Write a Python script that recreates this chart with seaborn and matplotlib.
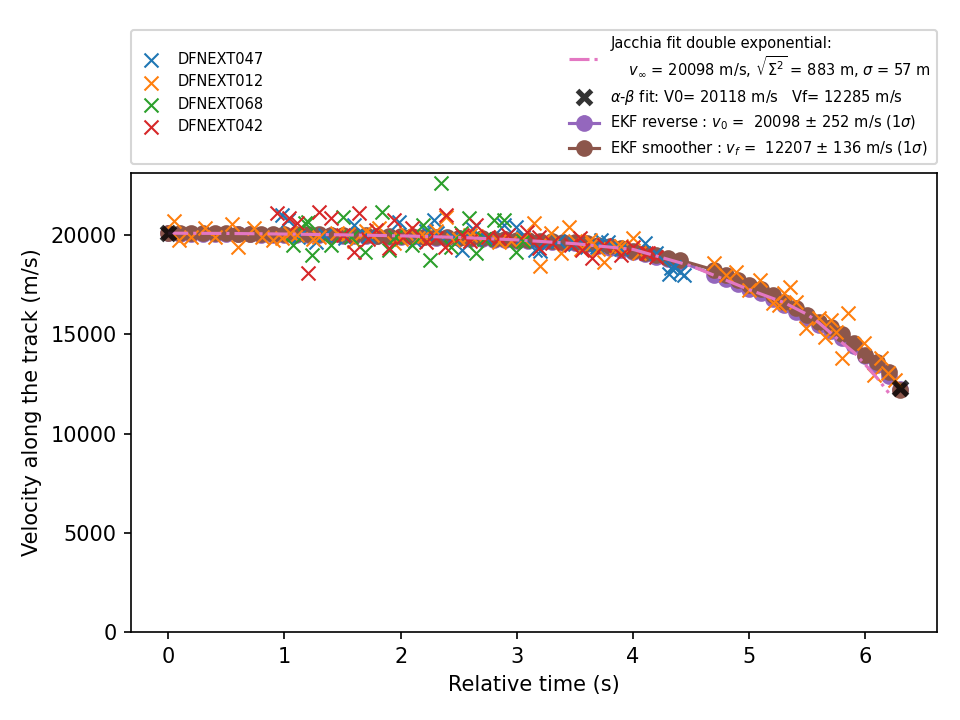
import numpy as np
import pandas as pd
import matplotlib
matplotlib.use('Agg')
import matplotlib.pyplot as plt
import seaborn as sns

# --- camera measurements (time s, velocity m/s) ---
CAMERAS = ['DFNEXT047', 'DFNEXT012', 'DFNEXT068', 'DFNEXT042']
CAM_COLORS = ['#1f77b4', '#ff7f0e', '#2ca02c', '#d62728']

t_047 = [0.98, 1.03, 1.12, 1.27, 1.35, 1.52, 1.60, 1.72, 1.99, 2.12, 2.22, 2.29, 2.31,
         2.45, 2.53, 2.62, 2.74, 2.89, 2.99, 3.05, 3.16, 3.20, 3.35, 3.50, 3.60, 3.69,
         3.72, 3.78, 3.90, 4.10, 4.20, 4.31, 4.33, 4.35, 4.40, 4.44]
v_047 = [21010, 20760, 19900, 19670, 20000, 19850, 20510, 19950, 20680, 19700, 20200, 20760, 20100,
         19900, 19250, 20300, 19800, 20510, 20430, 19900, 19250, 19200, 19700, 19550, 19400, 19420,
         19760, 19670, 19300, 19590, 19090, 18030, 18330, 18410, 18160, 18000]

t_012 = [0.05, 0.09, 0.20, 0.32, 0.40, 0.55, 0.60, 0.74, 0.81, 0.90, 0.98, 1.05, 1.11, 1.25,
         1.30, 1.45, 1.55, 1.60, 1.70, 1.75, 1.81, 1.94, 2.00, 2.05, 2.15, 2.20, 2.30, 2.39,
         2.45, 2.50, 2.60, 2.65, 2.75, 2.85, 2.95, 3.05, 3.15, 3.20, 3.29, 3.38, 3.45, 3.50,
         3.55, 3.63, 3.65, 3.70, 3.75, 3.85, 3.90, 4.00, 4.05,
         4.70, 4.80, 4.89, 5.00, 5.09, 5.20, 5.26, 5.30, 5.35, 5.40, 5.49, 5.60, 5.65, 5.70,
         5.75, 5.80, 5.85, 5.99, 6.07, 6.13, 6.19, 6.25]
v_012 = [20700, 19760, 19930, 20340, 19920, 20550, 19420, 20350, 19920, 19760, 19850, 20100, 20000, 19800,
         19900, 20100, 20050, 19700, 20200, 20000, 20360, 19600, 19800, 20100, 19850, 19950, 20200, 20900,
         19750, 19800, 20000, 19950, 19900, 19650, 19700, 19800, 20600, 18450, 20090, 19100, 20430, 19700,
         19300, 19760, 19550, 19300, 18660, 19400, 19450, 19840, 19100,
         18600, 17990, 18160, 17240, 17740, 16570, 16480, 17070, 17400, 16650, 15300, 15810, 14880, 15720,
         15140, 13790, 16060, 14550, 12950, 13790, 13040, 12700]

t_068 = [1.07, 1.18, 1.20, 1.24, 1.40, 1.50, 1.57, 1.69, 1.84, 1.90, 1.95, 2.10, 2.19, 2.25,
         2.35, 2.43, 2.52, 2.59, 2.65, 2.72, 2.80, 2.89, 2.99, 3.05]
v_068 = [19500, 20600, 20680, 19000, 19500, 20930, 19900, 19170, 21180, 19250, 19900, 19500, 20510, 18750,
         22610, 19420, 20100, 20850, 19090, 19800, 20760, 20760, 19170, 19700]

t_042 = [0.94, 1.04, 1.11, 1.20, 1.30, 1.40, 1.50, 1.60, 1.64, 1.72, 1.79, 1.90, 1.94, 2.02,
         2.10, 2.22, 2.30, 2.38, 2.39, 2.53, 2.60, 2.65, 2.75, 2.85, 2.92, 3.09, 3.19, 3.19,
         3.30, 3.47, 3.54, 3.56, 3.65, 3.75, 3.90, 4.00, 4.11, 4.13, 4.20]
v_042 = [21100, 20850, 20600, 18080, 21180, 20850, 20000, 19170, 21100, 19800, 20260, 19340, 20760, 19900,
         20340, 19670, 19850, 19420, 21010, 20000, 19700, 20510, 19900, 19840, 20000, 20170, 19920, 19340,
         19600, 19500, 19840, 19250, 18830, 19500, 19000, 19420, 19090, 19090, 18900]

CAM_T = [t_047, t_012, t_068, t_042]
CAM_V = [v_047, v_012, v_068, v_042]

# --- Jacchia fit curve ---
jac_t = [0.0, 0.5, 1.0, 1.5, 2.0, 2.5, 3.0, 3.5, 4.0, 4.5, 5.0, 5.3, 5.5, 5.6, 5.8, 5.9, 6.0, 6.1, 6.2]
jac_v = [20098, 20085, 20055, 20015, 19965, 19885, 19760, 19570, 19280, 18450, 17250, 16600, 16000,
         15580, 14570, 14100, 13460, 12800, 12050]

# --- alpha-beta fit end points ---
ab_t = [0.0, 6.3]
ab_v = [20118, 12285]

# --- EKF results ---
ekf_t = [0.0, 0.1, 0.2, 0.3, 0.4, 0.5, 0.6, 0.7, 0.8, 0.9, 1.0, 1.1, 1.2, 1.3, 1.4, 1.5,
         1.6, 1.7, 1.8, 1.9, 2.0, 2.1, 2.2, 2.3, 2.4, 2.5, 2.6, 2.7, 2.8, 2.9, 3.0, 3.1,
         3.2, 3.3, 3.4, 3.5, 3.6, 3.7, 3.8, 3.9, 4.0, 4.1, 4.2, 4.3, 4.4,
         4.7, 4.8, 4.9, 5.0, 5.1, 5.2, 5.3, 5.4, 5.5, 5.6, 5.7, 5.8, 5.9, 6.0, 6.1, 6.2, 6.3]
smooth_v = [20100, 20098, 20095, 20092, 20088, 20084, 20080, 20075, 20070, 20064, 20058, 20050, 20042,
            20034, 20025, 20015, 20004, 19993, 19981, 19968, 19960, 19945, 19930, 19915, 19898, 19880,
            19862, 19842, 19820, 19795, 19770, 19745, 19722, 19700, 19672, 19640, 19590, 19520, 19440,
            19330, 19210, 19100, 18990, 18870, 18750,
            18240, 17990, 17740, 17490, 17300, 16980, 16650, 16350, 15980, 15640, 15360, 15030, 14550,
            13960, 13600, 13080, 12207]
reverse_v = [20098, 20060, 20056, 20052, 20048, 20044, 20040, 20035, 20030, 20024, 20018, 20010, 20002,
             19994, 19985, 19975, 19964, 19953, 19941, 19928, 19918, 19903, 19888, 19872, 19855, 19836,
             19817, 19796, 19774, 19748, 19722, 19696, 19672, 19648, 19618, 19585, 19530, 19458, 19375,
             19262, 19140, 19025, 18910, 18785, 18660,
             18010, 17780, 17540, 17300, 17080, 16800, 16470, 16150, 15800, 15460, 15160, 14800, 14400,
             13900, 13450, 12900, 12230]
reverse_err = 252
smooth_err = 136

fig, ax = plt.subplots(figsize=(6.4, 4.8), dpi=150)
fig.subplots_adjust(left=0.1365, right=0.976, bottom=0.1222, top=0.7597)

for cam, col, tt, vv in zip(CAMERAS, CAM_COLORS, CAM_T, CAM_V):
    sns.scatterplot(x=tt, y=vv, ax=ax, marker='x', color=col, s=45, linewidth=1.0,
                    label=cam, zorder=3, legend=False)

sns.lineplot(x=jac_t, y=jac_v, ax=ax, color='#e377c2', linestyle='-.', linewidth=1.5,
             zorder=4, legend=False, sort=False,
             label='Jacchia fit double exponential:\n'
                   r'    $v_{\infty}$ = 20098 m/s, $\sqrt{\Sigma^2}$ = 883 m, $\sigma$ = 57 m')

ax.plot(ab_t, ab_v, 'x', color='k', alpha=0.8, ms=7, mew=2.5, zorder=5,
        label=r'$\alpha$-$\beta$ fit: V0= 20118 m/s   Vf= 12285 m/s')

ax.errorbar(ekf_t, reverse_v, yerr=reverse_err, fmt='-o', color='#9467bd', ms=7, zorder=2,
            label=r'EKF reverse : $v_0$ =  20098 $\pm$ 252 m/s (1$\sigma$)')
ax.errorbar(ekf_t, smooth_v, yerr=smooth_err, fmt='-o', color='#8c564b', ms=7, zorder=2.1,
            label=r'EKF smoother : $v_f$ =  12207 $\pm$ 136 m/s (1$\sigma$)')

ax.set_xlim(-0.32, 6.615)
ax.set_ylim(0, 23130)
ax.set_xlabel('Relative time (s)')
ax.set_ylabel('Velocity along the track (m/s)')

ax.legend(bbox_to_anchor=(0., 1.02, 1., 0.102), loc='lower left', ncol=2,
          mode='expand', borderaxespad=0., fontsize=7)

plt.savefig('out.png', dpi=150)
